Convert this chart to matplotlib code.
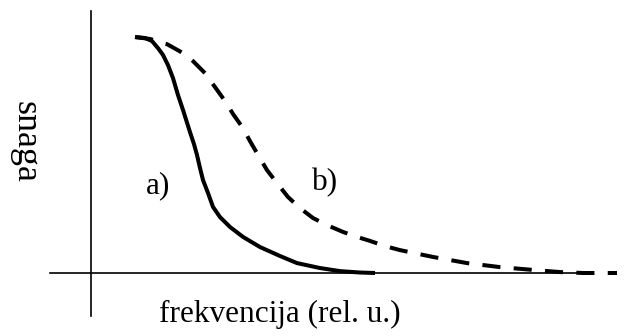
import numpy as np
import matplotlib
matplotlib.use('Agg')
import matplotlib.pyplot as plt

plt.rcParams['font.family'] = ['Liberation Serif', 'DejaVu Serif']

# curve a) - solid (frequency in rel. units, normalised power)
fa = [0.44, 0.54, 0.61, 0.67, 0.72, 0.77, 0.82, 0.87, 0.92, 0.99, 1.03,
      1.06, 1.09, 1.12, 1.17, 1.22, 1.29, 1.39, 1.52, 1.69, 1.89, 2.06,
      2.29, 2.49, 2.69, 2.84]
pa = [1.000, 0.996, 0.983, 0.953, 0.924, 0.881, 0.826, 0.754, 0.691, 0.597,
      0.546, 0.500, 0.445, 0.394, 0.339, 0.280, 0.237, 0.195, 0.153, 0.110,
      0.072, 0.042, 0.021, 0.008, 0.002, 0.0]

# curve b) - dashed
fb = [0.44, 0.59, 0.76, 0.92, 1.02, 1.14, 1.24, 1.34, 1.42, 1.52, 1.59,
      1.66, 1.76, 1.86, 1.97, 2.09, 2.22, 2.36, 2.52, 2.66, 2.79, 2.94,
      3.09, 3.42, 3.76, 4.09, 4.42, 4.69, 4.92, 5.26]
pb = [1.000, 0.992, 0.970, 0.932, 0.898, 0.847, 0.788, 0.729, 0.674, 0.614,
      0.559, 0.508, 0.436, 0.381, 0.322, 0.275, 0.233, 0.203, 0.174, 0.153,
      0.136, 0.114, 0.097, 0.068, 0.042, 0.025, 0.013, 0.004, 0.0, 0.0]

fig = plt.figure(figsize=(6.27, 3.36), dpi=100)
ax = fig.add_axes([0, 0, 1, 1])
ax.set_xlim(-0.91, 5.36)
ax.set_ylim(-0.267, 1.157)

# axes crossing at the origin
for s in ['top', 'right']:
    ax.spines[s].set_visible(False)
ax.spines['left'].set_position(('data', 0))
ax.spines['bottom'].set_position(('data', 0))
ax.spines['left'].set_bounds(-0.182, 1.110)
ax.spines['bottom'].set_bounds(-0.41, 4.96)
ax.spines['left'].set_linewidth(1.2)
ax.spines['bottom'].set_linewidth(1.2)
ax.set_xticks([])
ax.set_yticks([])
ax.patch.set_visible(False)

ax.plot(fa, pa, color='black', lw=2.9, solid_joinstyle='round',
        solid_capstyle='butt')
ax.plot(fb, pb, color='black', lw=2.9, dashes=(4.5, 3.3), clip_on=False)

ax.text(0.67, 0.37, 'a)', fontsize=22.5, ha='center', va='center')
ax.text(2.34, 0.385, 'b)', fontsize=22.5, ha='center', va='center')

fig.text(25 / 627, 1 - 142 / 336, 'snaga', fontsize=26, rotation=270,
         ha='center', va='center')
fig.text(280 / 627, 1 - 322 / 336, 'frekvencija (rel. u.)', fontsize=22.5,
         ha='center', va='baseline')

fig.savefig('out.png', dpi=100)
